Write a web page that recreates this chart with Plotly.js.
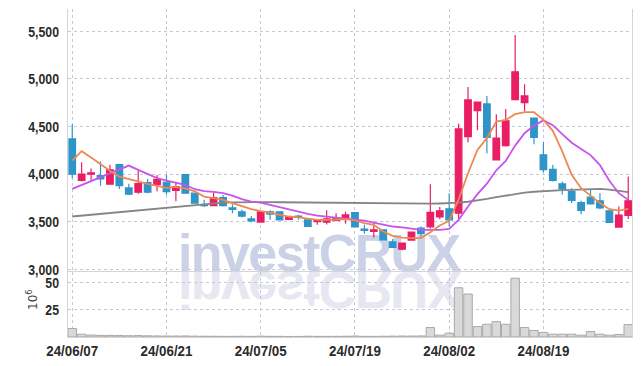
<!DOCTYPE html>
<html>
<head>
<meta charset="utf-8">
<script src="https://cdn.plot.ly/plotly-3.0.1.min.js"></script>
<style>
  html, body { margin: 0; padding: 0; background: #ffffff; }
  #wrap { position: relative; width: 642px; height: 366px; }
  #wm { position: absolute; left: 0; top: 0; z-index: 0; }
  #chart { position: absolute; left: 0; top: 0; width: 642px; height: 366px; z-index: 1; }
</style>
</head>
<body>
<div id="wrap">
  <svg id="wm" width="642" height="366">
    <text x="178" y="271" font-family="Liberation Sans, Arial, sans-serif" font-weight="bold" font-size="52" letter-spacing="-1.6" fill="#cbd2e8">investCRUX</text>
    <text x="178" y="271" font-family="Liberation Sans, Arial, sans-serif" font-weight="bold" font-size="52" letter-spacing="-1.6" fill="#e6e7f0" transform="translate(0,543) scale(1,-1)">investCRUX</text>
  </svg>
  <div id="chart"></div>
</div>
<script>
const dates = [
  "24/06/07",
  "24/06/10","24/06/11","24/06/12","24/06/13","24/06/14",
  "24/06/17","24/06/18","24/06/19","24/06/20","24/06/21",
  "24/06/24","24/06/25","24/06/26","24/06/27","24/06/28",
  "24/07/01","24/07/02","24/07/03","24/07/04","24/07/05",
  "24/07/08","24/07/09","24/07/10","24/07/11","24/07/12",
  "24/07/15","24/07/16","24/07/17","24/07/18","24/07/19",
  "24/07/22","24/07/23","24/07/24","24/07/25","24/07/26",
  "24/07/29","24/07/30","24/07/31","24/08/01","24/08/02",
  "24/08/05","24/08/06","24/08/07","24/08/08","24/08/09",
  "24/08/12","24/08/13","24/08/14","24/08/16","24/08/19",
  "24/08/20","24/08/21","24/08/22","24/08/23","24/08/26",
  "24/08/27","24/08/28","24/08/29","24/08/30"
];
const tickDates = ["24/06/07","24/06/21","24/07/05","24/07/19","24/08/02","24/08/19"];

const openP  = [4370,3935,4000,3985,3895,4100,3855,3810,3910,3890,
                3915,3830,3995,3800,3680,3670,3755,3645,3605,3530,
                3497,3605,3605,3525,3560,3520,3500,3497,3515,3528,
                3597,3422,3398,3415,3290,3212,3307,3433,3447,3550,
                3636,3590,4395,4668,4738,4150,4300,4783,4752,4590,
                4203,4050,3898,3817,3700,3758,3720,3615,3444,3566];
const highP  = [4525,4126,4060,4132,4100,4100,3900,4035,3950,3990,
                3990,3910,3995,3800,3730,3805,3780,3685,3625,3560,
                3610,3620,3610,3555,3573,3520,3523,3620,3590,3607,
                3597,3468,3500,3420,3320,3282,3397,3450,3895,3655,
                3800,4530,4915,4756,4822,4630,4685,5463,4945,4590,
                4336,4098,3922,3853,3720,3835,3800,3615,3660,3975];
const lowP   = [3958,3922,3925,3877,3890,3843,3780,3795,3800,3820,
                3785,3715,3800,3695,3655,3670,3660,3590,3545,3495,
                3495,3520,3520,3515,3520,3450,3468,3470,3505,3480,
                3445,3373,3335,3305,3225,3200,3300,3345,3430,3527,
                3450,3520,4335,4460,4220,4150,4290,4783,4657,4315,
                4020,3922,3785,3696,3580,3688,3632,3488,3444,3530];
const closeP = [4000,4000,4015,3950,4045,3880,3790,3900,3810,3945,
                3815,3870,3800,3695,3670,3755,3670,3630,3560,3510,
                3605,3580,3520,3545,3545,3450,3512,3530,3540,3572,
                3445,3410,3415,3310,3230,3275,3390,3375,3600,3615,
                3520,4475,4780,4756,4385,4380,4560,5075,4822,4385,
                4048,3935,3846,3723,3618,3688,3646,3492,3570,3720];

const ma5  = [4143,4241,4175,4105,4035,3975,3947,3922,3898,3877,
              3855,3866,3850,3820,3765,3748,3730,3696,3660,3632,
              3612,3597,3573,3555,3545,3530,3520,3520,3520,3527,
              3515,3485,3468,3397,3352,3334,3328,3328,3390,3460,
              3510,3735,4010,4255,4378,4553,4570,4630,4651,4651,
              4570,4455,4240,3993,3853,3772,3696,3632,3618,3636];
const ma10 = [3846,3886,3926,3968,4008,4050,4090,4045,4003,3958,
              3933,3912,3888,3842,3821,3814,3800,3775,3737,3712,
              3702,3678,3653,3632,3607,3583,3565,3555,3548,3538,
              3530,3513,3492,3468,3450,3440,3426,3415,3415,3415,
              3426,3520,3660,3790,3900,4040,4140,4300,4430,4510,
              4565,4515,4420,4330,4265,4200,4095,3930,3800,3730];
const maLong = [3555,3564,3574,3583,3593,3602,3612,3621,3630,3640,
                3649,3658,3667,3676,3685,3693,3700,3704,3706,3707,
                3707,3706,3705,3704,3702,3700,3698,3697,3696,3695,
                3694,3693,3691,3689,3687,3686,3686,3688,3690,3692,
                3695,3700,3710,3722,3740,3758,3775,3792,3805,3815,
                3823,3828,3832,3835,3838,3842,3845,3838,3825,3812];

const volume = [7.8,2.6,1.8,1.5,1.5,1.4,1.2,1.3,1.1,1.0,
                0.9,0.9,1.0,0.8,0.7,0.7,0.6,0.6,0.7,0.6,
                0.8,0.6,0.6,0.5,0.5,0.7,0.6,0.6,0.6,0.7,
                0.9,0.6,0.6,0.7,0.8,0.9,0.9,1.0,8.7,1.7,
                3.5,45.2,39.5,9.6,11.7,14.1,11.7,54.0,8.7,6.0,
                4.2,2.6,2.6,2.6,1.7,5.0,2.6,1.7,2.3,11.4];

const upColor = "#e91e63";
const downColor = "#2f95c8";
const gridColor = "#c3c8dc";
const tickFont = {family: "Liberation Sans, Arial, sans-serif", size: 15, color: "#2b2b2b", weight: "bold"};

const traces = [
  {
    type: "candlestick", x: dates, open: openP, high: highP, low: lowP, close: closeP,
    xaxis: "x", yaxis: "y",
    increasing: {line: {color: upColor, width: 1.2}, fillcolor: upColor},
    decreasing: {line: {color: downColor, width: 1.2}, fillcolor: downColor},
    hoverinfo: "skip", showlegend: false
  },
  {type: "scatter", mode: "lines", x: dates, y: maLong, xaxis: "x", yaxis: "y",
   line: {color: "#858585", width: 1.8}, hoverinfo: "skip", showlegend: false},
  {type: "scatter", mode: "lines", x: dates, y: ma10, xaxis: "x", yaxis: "y",
   line: {color: "#c655ea", width: 1.8}, hoverinfo: "skip", showlegend: false},
  {type: "scatter", mode: "lines", x: dates, y: ma5, xaxis: "x", yaxis: "y",
   line: {color: "#ee8852", width: 1.8}, hoverinfo: "skip", showlegend: false},
  {type: "bar", x: dates, y: volume, xaxis: "x", yaxis: "y2",
   marker: {color: "#d9d9d9", line: {color: "#a9a9a9", width: 1}},
   hoverinfo: "skip", showlegend: false}
];

const layout = {
  width: 642, height: 366,
  margin: {l: 68, r: 10, t: 9, b: 29},
  paper_bgcolor: "rgba(0,0,0,0)",
  plot_bgcolor: "rgba(0,0,0,0)",
  bargap: 0.1,
  boxgap: 0.3,
  boxgroupgap: 0,
  xaxis: {
    type: "category", categoryorder: "array", categoryarray: dates,
    range: [-0.45, 59.4], anchor: "y2",
    tickvals: tickDates, ticktext: tickDates, tickfont: tickFont,
    showgrid: true, gridcolor: gridColor, griddash: "dot", gridwidth: 1,
    showline: true, linecolor: "#d4d4d4", linewidth: 1, mirror: true,
    ticks: "", rangeslider: {visible: false}, zeroline: false,
    fixedrange: true
  },
  yaxis: {
    domain: [0.199, 1], range: [2975, 5735],
    tickvals: [3000, 3500, 4000, 4500, 5000, 5500], tickformat: ",d",
    tickfont: tickFont,
    showgrid: true, gridcolor: gridColor, griddash: "dot", gridwidth: 1,
    showline: true, linecolor: "#d4d4d4", linewidth: 1, mirror: true,
    ticks: "", ticklabelstandoff: 5, zeroline: false
  },
  yaxis2: {
    domain: [0, 0.199], range: [0, 60],
    tickvals: [25, 50], tickfont: tickFont,
    showgrid: true, gridcolor: gridColor, griddash: "dot", gridwidth: 1,
    showline: true, linecolor: "#d4d4d4", linewidth: 1, mirror: true,
    ticks: "", ticklabelstandoff: 5, zeroline: false
  },
  annotations: [{
    text: "10<sup>6</sup>", xref: "paper", yref: "paper",
    x: -0.0638, y: 0.113, xanchor: "center", yanchor: "middle",
    textangle: -90, showarrow: false,
    font: {family: "DejaVu Sans, sans-serif", size: 12, color: "#444"}
  }]
};

function condense(sel, sx) {
  document.querySelectorAll(sel).forEach(function (t) {
    const ax = parseFloat(t.getAttribute("x") || 0);
    const ay = parseFloat(t.getAttribute("y") || 0);
    const tr = t.getAttribute("transform") || "";
    t.setAttribute("transform", tr + " translate(" + ax + "," + ay + ") scale(" + sx + ",1) translate(" + (-ax) + "," + (-ay) + ")");
  });
}

Plotly.newPlot("chart", traces, layout, {staticPlot: true, displayModeBar: false}).then(function () {
  condense(".xtick text", 0.89);
  condense(".ytick text", 0.82);
  condense(".y2tick text", 0.82);
});
</script>
</body>
</html>
